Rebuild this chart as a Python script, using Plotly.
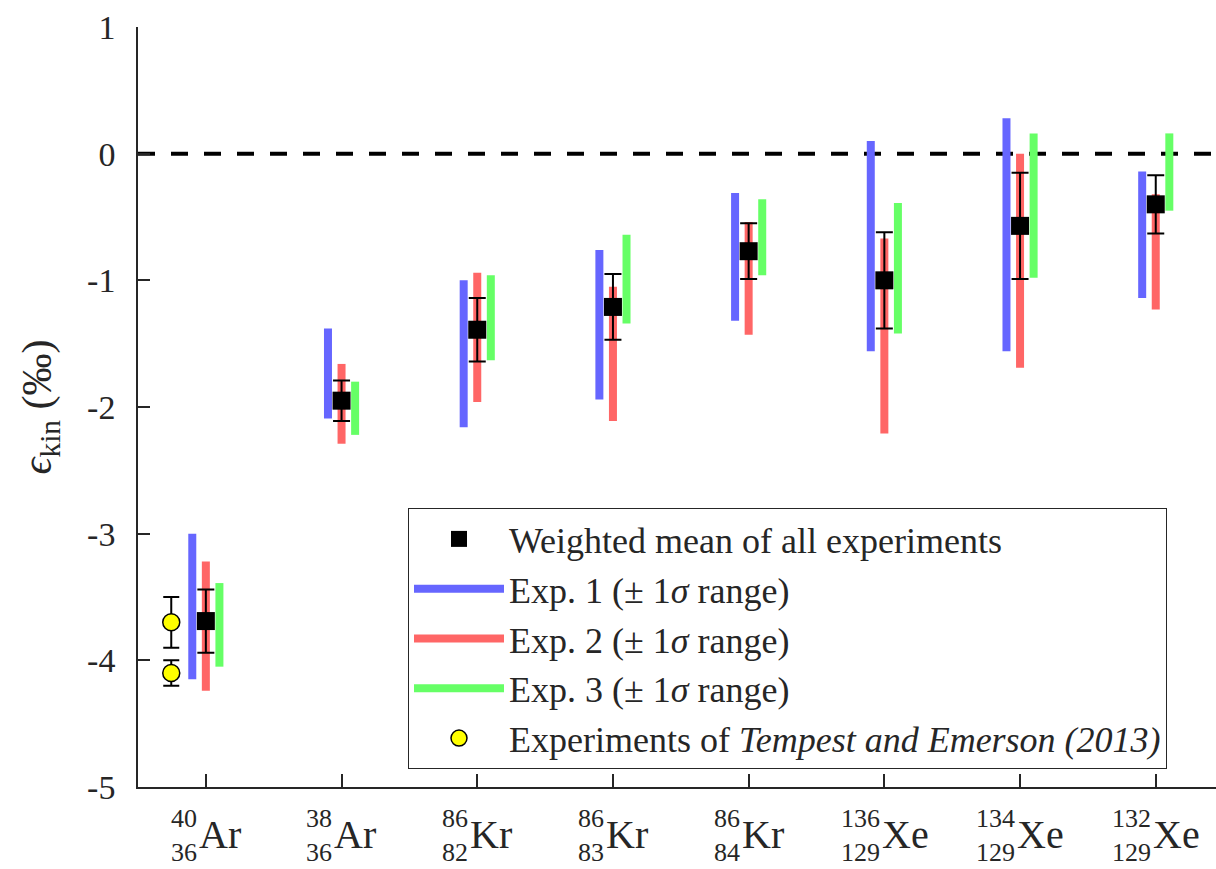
import plotly.graph_objects as go

# ---------------- data ----------------
categories = [1, 2, 3, 4, 5, 6, 7, 8]
sup_labels = ["40", "38", "86", "86", "86", "136", "134", "132"]
sub_labels = ["36", "36", "82", "83", "84", "129", "129", "129"]
elements = ["Ar", "Ar", "Kr", "Kr", "Kr", "Xe", "Xe", "Xe"]

exp1_low = [-4.15, -2.09, -2.16, -1.94, -1.32, -1.56, -1.56, -1.14]
exp1_high = [-3.00, -1.38, -1.00, -0.76, -0.31, 0.10, 0.28, -0.14]
exp2_low = [-4.24, -2.29, -1.96, -2.11, -1.43, -2.21, -1.69, -1.23]
exp2_high = [-3.22, -1.66, -0.94, -1.05, -0.54, -0.67, 0.00, -0.32]
exp3_low = [-4.05, -2.22, -1.63, -1.34, -0.96, -1.42, -0.98, -0.45]
exp3_high = [-3.39, -1.80, -0.96, -0.64, -0.36, -0.39, 0.16, 0.16]

mean_vals = [-3.69, -1.95, -1.39, -1.21, -0.77, -1.00, -0.57, -0.40]
mean_err = [0.25, 0.16, 0.25, 0.26, 0.22, 0.38, 0.42, 0.23]

tempest_cat = [1, 1]
tempest_vals = [-3.70, -4.10]
tempest_err = [0.20, 0.10]

y_ticks = [1, 0, -1, -2, -3, -4, -5]
y_tick_labels = ["1", "0", "-1", "-2", "-3", "-4", "-5"]

# ---------------- style ----------------
FONT = "Liberation Serif"
AX = "#262626"
W, H = 1216, 869
L, R, T, B = 138, 0, 27, 82
x_range = [0.5, 0.5 + (W - L - R) / 135.7]


def segments(cats, lows, highs, off):
    xs, ys = [], []
    for c, lo, hi in zip(cats, lows, highs):
        xs += [c + off, c + off, None]
        ys += [lo, hi, None]
    return xs, ys


fig = go.Figure()

exp_specs = [
    ("Exp. 1 (± 1<i>σ</i> range)", exp1_low, exp1_high, -0.1, "#6666ff", 2),
    ("Exp. 2 (± 1<i>σ</i> range)", exp2_low, exp2_high, 0.0, "#ff6666", 3),
    ("Exp. 3 (± 1<i>σ</i> range)", exp3_low, exp3_high, 0.1, "#66ff66", 4),
]
for name, lo, hi, off, col, rank in exp_specs:
    xs, ys = segments(categories, lo, hi, off)
    fig.add_trace(go.Scatter(
        x=xs, y=ys, mode="lines", name=name,
        line=dict(color=col, width=8), legendrank=rank,
        hoverinfo="skip",
    ))

fig.add_trace(go.Scatter(
    x=categories, y=mean_vals, mode="markers",
    name="Weighted mean of all experiments",
    marker=dict(symbol="square", size=18, color="black"),
    error_y=dict(type="data", array=mean_err, color="black",
                 thickness=2, width=8.5),
    legendrank=1,
))

fig.add_trace(go.Scatter(
    x=[c - 0.255 for c in tempest_cat], y=tempest_vals, mode="markers",
    name="Experiments of <i>Tempest and Emerson (2013)</i>",
    marker=dict(symbol="circle", size=17, color="#ffff00",
                line=dict(color="black", width=1.5)),
    error_y=dict(type="data", array=tempest_err, color="black",
                 thickness=2, width=8),
    legendrank=5,
))

# zero reference line
fig.add_shape(type="line", xref="paper", yref="y", x0=0, x1=1, y0=0, y1=0,
              line=dict(color="black", width=4, dash="17px,16px"),
              layer="below")

# stacked isotope-ratio tick labels
SCRIPT_SIZE = 26
ELEM_SIZE = 40
DIG_W = 0.5 * SCRIPT_SIZE
ELEM_W = {"Ar": 1.055 * ELEM_SIZE, "Kr": 1.055 * ELEM_SIZE, "Xe": 1.166 * ELEM_SIZE}
for c, sup, sub, el in zip(categories, sup_labels, sub_labels, elements):
    sw = max(len(sup), len(sub)) * DIG_W
    ew = ELEM_W[el]
    shift = (sw - ew) / 2
    fig.add_annotation(x=c, y=0, xref="x", yref="paper", text=el,
                       showarrow=False, xanchor="left", yanchor="middle",
                       xshift=shift, yshift=-47, borderpad=0,
                       font=dict(family=FONT, size=ELEM_SIZE, color=AX))
    fig.add_annotation(x=c, y=0, xref="x", yref="paper",
                       text=sup + "<br>" + sub,
                       showarrow=False, xanchor="right", yanchor="middle",
                       align="right", xshift=shift, yshift=-48, borderpad=0,
                       font=dict(family=FONT, size=SCRIPT_SIZE, color=AX))

fig.update_layout(
    width=W, height=H,
    margin=dict(l=L, r=R, t=T, b=B),
    paper_bgcolor="white", plot_bgcolor="white",
    font=dict(family=FONT, color=AX),
    showlegend=True,
    legend=dict(
        x=(408 - L) / (W - L - R), xanchor="left",
        y=(H - B - 769) / (H - T - B), yanchor="bottom",
        bgcolor="white", bordercolor=AX, borderwidth=1,
        font=dict(family=FONT, size=36, color=AX),
        itemwidth=90,
    ),
    xaxis=dict(
        range=x_range, tickvals=categories,
        showticklabels=False, ticks="inside", ticklen=13, tickwidth=1.5,
        tickcolor=AX, showline=True, linecolor=AX, linewidth=1.5,
        showgrid=False, zeroline=False,
    ),
    yaxis=dict(
        range=[-5, 1], tickvals=y_ticks, ticktext=y_tick_labels,
        ticks="inside", ticklen=12, tickwidth=1.5, tickcolor=AX,
        showline=True, linecolor=AX, linewidth=1.5,
        showgrid=False, zeroline=False,
        tickfont=dict(family=FONT, size=34, color=AX),
        ticklabelstandoff=14,
        title=dict(text="<i>ϵ</i><sub>kin</sub> (‰)",
                   font=dict(family=FONT, size=42, color=AX), standoff=22),
    ),
)

fig.write_html("out.html")
